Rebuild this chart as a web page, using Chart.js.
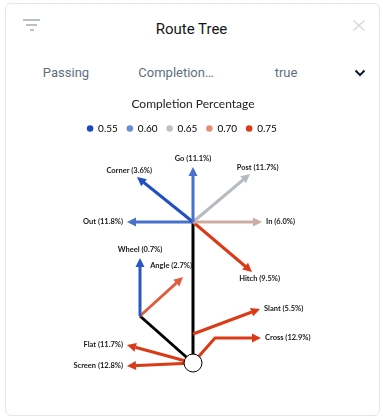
<!DOCTYPE html>
<html>
<head>
<meta charset="utf-8">
<script src="https://cdn.jsdelivr.net/npm/chart.js@4.4.0/dist/chart.umd.min.js"></script>
<style>
  html, body { margin: 0; padding: 0; background: #fff; }
  body { width: 383px; height: 418px; position: relative; overflow: hidden; font-family: Roboto, sans-serif; }
  .card { position: absolute; left: 5px; top: 3px; width: 375px; height: 413px; border: 1px solid #e4e6e8; border-radius: 6px; box-sizing: border-box; }
  .bar { position: absolute; height: 2px; background: #b7c2ca; }
  .head { position: absolute; left: 0; top: 20px; width: 383px; text-align: center; font-size: 15px; line-height: 18px; color: #161616; }
  .opt { position: absolute; top: 64px; width: 120px; text-align: center; font-size: 13px; line-height: 17px; color: #5e6f80; }
  #wrap { position: absolute; left: 7px; top: 87px; width: 372px; height: 321px; }
</style>
</head>
<body>
<div class="card"></div>
<div class="bar" style="left:23px;top:19px;width:17px"></div>
<div class="bar" style="left:26px;top:24px;width:11px"></div>
<div class="bar" style="left:29.5px;top:28.5px;width:4px"></div>
<div class="head">Route Tree</div>
<svg style="position:absolute;left:352px;top:19px" width="14" height="13">
  <path d="M1.5 1.5 L12.5 11.5 M12.5 1.5 L1.5 11.5" stroke="#d6dade" stroke-width="1.6" fill="none"/>
</svg>
<div class="opt" style="left:6px">Passing</div>
<div class="opt" style="left:116px">Completion…</div>
<div class="opt" style="left:226px">true</div>
<svg style="position:absolute;left:354px;top:69px" width="12" height="8">
  <path d="M1.5 1.5 L6 6 L10.5 1.5" stroke="#0f1b2b" stroke-width="2" fill="none"/>
</svg>
<div id="wrap"><canvas id="chart" width="372" height="321"></canvas></div>
<script>
// route tree data
const routeNames = ['Go', 'Corner', 'Post', 'Out', 'In', 'Hitch', 'Wheel', 'Angle', 'Slant', 'Cross', 'Flat', 'Screen'];
const routeShare = [11.1, 3.6, 11.7, 11.8, 6.0, 9.5, 0.7, 2.7, 5.5, 12.9, 11.7, 12.8];
const routeCompletion = [0.58, 0.555, 0.645, 0.58, 0.67, 0.75, 0.56, 0.73, 0.75, 0.75, 0.75, 0.75];
// route shapes in field units from the ball (x to the right, y downfield)
const routePaths = [
    [[0, 14.1], [0, 19.6]],
    [[0, 14.1], [-5.6, 18.6]],
    [[0, 14.1], [5.7, 18.9]],
    [[0, 14.1], [-6.6, 14.1]],
    [[0, 14.1], [6.9, 14.1]],
    [[0, 14.1], [5.9, 9.1]],
    [[-5.3, 4.7], [-5.3, 10.5]],
    [[-5.3, 4.7], [-1.0, 8.6]],
    [[0, 2.9], [6.7, 5.4]],
    [[0, 0], [2.2, 2.5], [6.8, 2.5]],
    [[0, 0], [-6.6, 1.8]],
    [[0, 0], [-6.6, -0.3]]
];
// shared black stems
const stemPaths = [
    [[0, 0], [0, 14.1]],
    [[0, 0], [-5.3, 4.7]]
];
const legendValues = [0.55, 0.60, 0.65, 0.70, 0.75];

// styles
const legendColors = ['#1a48c0', '#688cd4', '#c0c0c0', '#e68e78', '#da3a16'];
const UNIT_PX = 10;
const BALL_PX = { x: 186, y: 276 }; // where the ball sits on the canvas
const ARROW_LEN = 9;
const ARROW_HALF = 4.5;
const labelNudge = { Angle: { align: 'right', dx: 9, dy: -11 } };

function hexRgb(h) {
    return [1, 3, 5].map(i => parseInt(h.slice(i, i + 2), 16));
}
function colorFor(v) {
    let i = 0;
    while (i < legendValues.length - 2 && v > legendValues[i + 1]) i++;
    const t = Math.max(0, Math.min(1, (v - legendValues[i]) / (legendValues[i + 1] - legendValues[i])));
    const a = hexRgb(legendColors[i]), b = hexRgb(legendColors[i + 1]);
    const c = a.map((x, k) => Math.round(x + (b[k] - x) * t));
    return `rgb(${c[0]},${c[1]},${c[2]})`;
}
const toPts = p => p.map(([x, y]) => ({ x, y }));

const datasets = [{
    label: 'ball',
    data: [{ x: 0, y: 0 }],
    pointRadius: 9,
    pointBackgroundColor: '#fff',
    pointBorderColor: '#000',
    pointBorderWidth: 1,
    showLine: false,
    order: 0
}];
routeNames.forEach((name, i) => datasets.push({
    label: name,
    data: toPts(routePaths[i]),
    showLine: true,
    borderColor: colorFor(routeCompletion[i]),
    borderWidth: 3,
    pointRadius: 0,
    order: 1,
    route: i
}));
stemPaths.forEach(p => datasets.push({
    label: 'stem',
    data: toPts(p),
    showLine: true,
    borderColor: '#000',
    borderWidth: 3,
    pointRadius: 0,
    order: 2
}));

function tipOf(chart, index) {
    const pts = chart.getDatasetMeta(index).data;
    const a = pts[pts.length - 2], b = pts[pts.length - 1];
    const len = Math.hypot(b.x - a.x, b.y - a.y);
    return { x: b.x, y: b.y, ux: (b.x - a.x) / len, uy: (b.y - a.y) / len };
}

const routeArrows = {
    id: 'routeArrows',
    beforeDatasetDraw(chart, args) {
        const ds = chart.data.datasets[args.index];
        if (ds.route === undefined) return;
        const t = tipOf(chart, args.index);
        const ctx = chart.ctx;
        ctx.save();
        ctx.beginPath();
        ctx.rect(0, 0, chart.width, chart.height);
        ctx.moveTo(t.x + ARROW_LEN, t.y);
        ctx.arc(t.x, t.y, ARROW_LEN, 0, Math.PI * 2);
        ctx.clip('evenodd');
    },
    afterDatasetDraw(chart, args) {
        const ds = chart.data.datasets[args.index];
        if (ds.route === undefined) return;
        const ctx = chart.ctx;
        ctx.restore();
        const t = tipOf(chart, args.index);
        const bx = t.x - t.ux * ARROW_LEN, by = t.y - t.uy * ARROW_LEN;
        ctx.save();
        ctx.fillStyle = ds.borderColor;
        ctx.beginPath();
        ctx.moveTo(t.x, t.y);
        ctx.lineTo(bx - t.uy * ARROW_HALF, by + t.ux * ARROW_HALF);
        ctx.lineTo(bx + t.uy * ARROW_HALF, by - t.ux * ARROW_HALF);
        ctx.closePath();
        ctx.fill();
        ctx.restore();
    },
    afterDatasetsDraw(chart) {
        const ctx = chart.ctx;
        ctx.save();
        ctx.font = 'bold 7.5px Lato';
        ctx.fillStyle = '#1a1a1a';
        ctx.textBaseline = 'middle';
        chart.data.datasets.forEach((ds, index) => {
            if (ds.route === undefined) return;
            const t = tipOf(chart, index);
            const text = `${routeNames[ds.route]} (${routeShare[ds.route].toFixed(1)}%)`;
            const nudge = labelNudge[routeNames[ds.route]];
            let x, y, align;
            if (nudge) {
                align = nudge.align; x = t.x + nudge.dx; y = t.y + nudge.dy;
            } else if (Math.abs(t.ux) > 0.85) {
                align = t.ux > 0 ? 'left' : 'right';
                x = t.x + (t.ux > 0 ? 4 : -4);
                y = t.y;
            } else {
                align = 'center';
                const off = Math.abs(t.ux) < 0.1 ? 8.5 : 10;
                x = t.x + t.ux * off;
                y = t.y + t.uy * off;
            }
            ctx.textAlign = align;
            ctx.fillText(text, x, y);
        });
        ctx.restore();
    }
};

const chart = new Chart(document.getElementById('chart'), {
    type: 'scatter',
    data: { datasets },
    options: {
        responsive: false,
        devicePixelRatio: 1,
        animation: false,
        events: [],
        layout: { padding: 0, autoPadding: false },
        scales: {
            x: { type: 'linear', display: false, bounds: 'data', min: -20, max: 20 },
            y: {
                type: 'linear',
                position: 'right',
                bounds: 'data',
                min: -5,
                max: 30,
                grid: { display: false },
                border: { display: false },
                ticks: { display: false },
                afterFit: s => { s.width = 22; }
            }
        },
        plugins: {
            tooltip: { enabled: false },
            title: {
                display: true,
                text: 'Completion Percentage',
                color: '#222',
                font: { family: 'Lato', size: 12, weight: 'normal' },
                padding: { top: 10, bottom: 3 }
            },
            legend: {
                position: 'top',
                fullSize: false,
                labels: {
                    usePointStyle: true,
                    boxWidth: 6,
                    boxHeight: 4.6,
                    padding: 9,
                    color: '#333',
                    font: { family: 'Lato', size: 10 },
                    generateLabels: () => legendValues.map((v, i) => ({
                        text: v.toFixed(2),
                        fillStyle: legendColors[i],
                        strokeStyle: legendColors[i],
                        lineWidth: 0,
                        pointStyle: 'circle',
                        hidden: false
                    }))
                }
            }
        }
    },
    plugins: [routeArrows]
});

// equal scaling on both axes, ball fixed on the canvas
const area = chart.chartArea;
chart.options.scales.x.min = (area.left - BALL_PX.x) / UNIT_PX;
chart.options.scales.x.max = (area.right - BALL_PX.x) / UNIT_PX;
chart.options.scales.y.min = (BALL_PX.y - area.bottom) / UNIT_PX;
chart.options.scales.y.max = (BALL_PX.y - area.top) / UNIT_PX;
chart.update();
</script>
</body>
</html>
